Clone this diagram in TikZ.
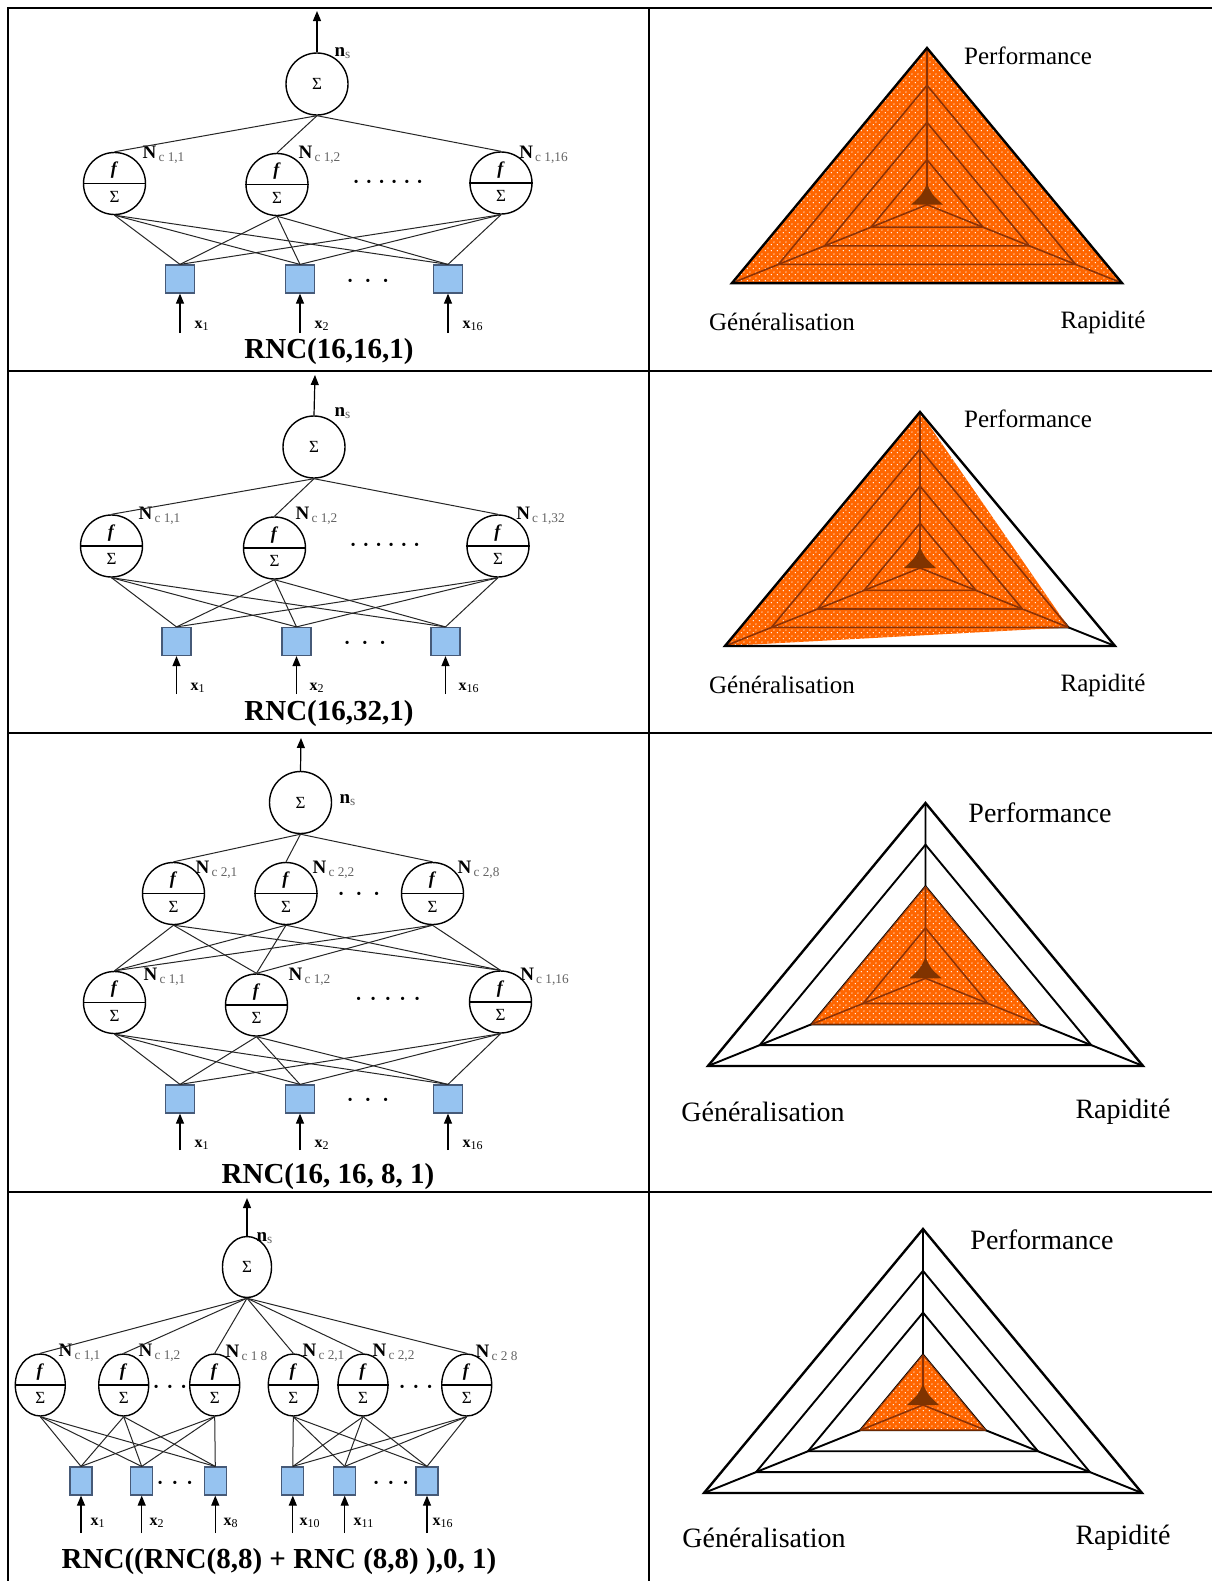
\documentclass[tikz,border=0pt]{standalone}
\usepackage{fontspec}
\setmainfont{Liberation Serif}
\usetikzlibrary{arrows.meta,shapes.geometric,patterns}

\definecolor{orng}{RGB}{255,102,0}
\definecolor{brn}{RGB}{140,50,5}
\definecolor{dkbrn}{RGB}{128,51,0}
\definecolor{sqfill}{RGB}{150,195,240}
\definecolor{sqdraw}{RGB}{70,90,120}
\definecolor{subgray}{RGB}{100,100,100}

\pgfdeclarepatternformonly{wdots}{\pgfpoint{0pt}{0pt}}{\pgfpoint{2.8pt}{2.8pt}}{\pgfpoint{2.8pt}{2.8pt}}{%
  \pgfpathcircle{\pgfpoint{0.7pt}{0.7pt}}{0.35pt}%
  \pgfpathcircle{\pgfpoint{2.1pt}{2.1pt}}{0.35pt}%
  \pgfusepath{fill}}

\tikzset{
 tbl/.style={line width=1pt},
 conn/.style={line width=0.5pt, draw=black!85},
 arr/.style={line width=0.6pt, -{Triangle[length=5pt,width=4pt]}},
 neu/.style={circle, draw, line width=0.7pt, minimum size=31pt, inner sep=0pt},
 neue/.style={ellipse, draw, line width=0.7pt, minimum width=25pt, minimum height=31pt, inner sep=0pt},
 sig/.style={neu, font=\fontsize{8.5}{8.5}\selectfont},
 sige/.style={ellipse, draw, line width=0.7pt, minimum width=24.5pt, minimum height=30.5pt, inner sep=0pt, font=\fontsize{8.5}{8.5}\selectfont},
 divl/.style={line width=0.7pt},
 ftx/.style={inner sep=0pt, font=\fontsize{9}{9}\selectfont},
 stx/.style={inner sep=0pt, font=\fontsize{8.5}{8.5}\selectfont},
 nl/.style={inner sep=0pt, font=\fontsize{9.5}{10}\selectfont},
 xl/.style={inner sep=0pt, font=\fontsize{8}{8}\selectfont},
 sq/.style={rectangle, draw=sqdraw, fill=sqfill, line width=0.6pt, minimum width=14.5pt, minimum height=14pt, inner sep=0pt},
 sqn/.style={sq, minimum width=11pt},
 dt/.style={inner sep=0pt, font=\fontsize{10}{10}\selectfont\bfseries},
 captxt/.style={inner sep=0pt, font=\fontsize{14.5}{15}\selectfont\bfseries},
 rl/.style={inner sep=0pt, font=\fontsize{12.5}{13}\selectfont},
 rlb/.style={inner sep=0pt, font=\fontsize{14}{15}\selectfont},
 gridk/.style={line width=0.95pt, draw=black},
 gridb/.style={line width=0.8pt, draw=brn},
}

\newcommand\hn[4]{%
  \node[#1] (#2) at (#3,#4) {};
  \draw[divl] (#2.west) -- (#2.east);
  \node[ftx] (#2f) at ([yshift=6.5pt]#2.center) {\textbf{\textit{f}}};
  \node[stx] (#2s) at ([yshift=-6.5pt]#2.center) {Σ};
}
\newcommand\NL[1]{\textbf{N}\textsubscript{\color{subgray}\,#1}}
\newcommand\XL[1]{\textbf{x}\textsubscript{#1}}
\newcommand\NS{\textbf{n}\textsubscript{\color{subgray}s}}
\newcommand\dsix[1]{·\hspace{#1}·\hspace{#1}·\hspace{#1}·\hspace{#1}·\hspace{#1}·}
\newcommand\dfive[1]{·\hspace{#1}·\hspace{#1}·\hspace{#1}·\hspace{#1}·}
\newcommand\dthree[1]{·\hspace{#1}·\hspace{#1}·}

% #1 cx  #2 cy  #3 W  #4 Ry  #5 ftop  #6 fleft  #7 fright
\newcommand\radar[7]{%
  \foreach \f in {0.762,0.525,0.287}{%
    \draw[gridk] (#1,#2-\f*#4) -- (#1-\f*#3,#2+0.5*\f*#4) -- (#1+\f*#3,#2+0.5*\f*#4) -- cycle;}
  \draw[gridk] (#1,#2-#4) -- (#1,#2) -- (#1-#3,#2+0.5*#4) (#1,#2) -- (#1+#3,#2+0.5*#4);
  \fill[orng] (#1,#2-#5*#4) -- (#1-#6*#3,#2+0.5*#6*#4) -- (#1+#7*#3,#2+0.5*#7*#4) -- cycle;
  \fill[pattern=wdots, pattern color=white] (#1,#2-#5*#4) -- (#1-#6*#3,#2+0.5*#6*#4) -- (#1+#7*#3,#2+0.5*#7*#4) -- cycle;
  \begin{scope}
    \clip (#1,#2-#5*#4) -- (#1-#6*#3,#2+0.5*#6*#4) -- (#1+#7*#3,#2+0.5*#7*#4) -- cycle;
    \foreach \f in {0.762,0.525,0.287}{%
      \draw[gridb] (#1,#2-\f*#4) -- (#1-\f*#3,#2+0.5*\f*#4) -- (#1+\f*#3,#2+0.5*\f*#4) -- cycle;}
    \draw[gridb] (#1,#2-#4) -- (#1,#2) -- (#1-#3,#2+0.5*#4) (#1,#2) -- (#1+#3,#2+0.5*#4);
  \end{scope}
  \fill[dkbrn] (#1,#2-21) .. controls (#1-5,#2-10) .. (#1-16,#2)
     -- (#1+16,#2) .. controls (#1+5,#2-10) .. (#1,#2-21) -- cycle;
  \draw[gridk, line width=1.2pt] (#1,#2-#4) -- (#1-#3,#2+0.5*#4) -- (#1+#3,#2+0.5*#4) -- cycle;
}

\begin{document}
\begin{tikzpicture}[x=0.5pt,y=-0.5pt]
\useasboundingbox (0,0) rectangle (1212,1581);
\fill[white] (0,0) rectangle (1212,1581);

% ---------------- table ----------------
\draw[tbl] (7.5,1581) -- (7.5,8) -- (1212,8);
\draw[tbl] (649,8) -- (649,1581);
\draw[tbl] (7.5,371) -- (1212,371);
\draw[tbl] (7.5,733) -- (1212,733);
\draw[tbl] (7.5,1192) -- (1212,1192);

% ================= ROW 1 =================
\node[sig] (r1o) at (317,84) {Σ};
\coordinate (r1t) at (317,11);
\draw[arr] (r1o.north) -- (r1t);
\node[nl] (r1ns) at (343,53) {\NS};
\hn{neu}{r1a}{114.5}{183.5}
\hn{neu}{r1b}{277}{184.5}
\hn{neu}{r1c}{501}{183}
\node[nl] (r1l1) at (164,155) {\NL{c 1,1}};
\node[nl] (r1l2) at (320,155) {\NL{c 1,2}};
\node[nl] (r1l3) at (544,155) {\NL{c 1,16}};
\node[dt] (r1d1) at (388,184) {\dsix{3pt}};
\node[sq] (r1s1) at (180,279) {};
\node[sq] (r1s2) at (300,279) {};
\node[sq] (r1s3) at (448,279) {};
\node[dt] (r1d2) at (368,283) {\dthree{5.5pt}};
\foreach \h in {r1a,r1b,r1c} \draw[conn] (r1o.south) -- (\h.north);
\foreach \h in {r1a,r1b,r1c} \foreach \s in {r1s1,r1s2,r1s3} \draw[conn] (\h.south) -- (\s.north);
\coordinate (r1i1) at (180,333); \coordinate (r1i2) at (300,333); \coordinate (r1i3) at (448,333);
\draw[arr] (r1i1) -- (r1s1.south);
\draw[arr] (r1i2) -- (r1s2.south);
\draw[arr] (r1i3) -- (r1s3.south);
\node[xl] (r1x1) at (202,326) {\XL{1}};
\node[xl] (r1x2) at (322,326) {\XL{2}};
\node[xl] (r1x3) at (473,326) {\XL{16}};
\node[captxt] (r1cap) at (329,352) {RNC(16,16,1)};

\radar{927}{204.7}{195}{156.7}{1}{1}{1}
\node[rl] (r1p) at (1028,56) {Performance};
\node[rl] (r1g) at (782,322) {Généralisation};
\node[rl] (r1r) at (1103,322) {Rapidité};

% ================= ROW 2 =================
\node[sig] (r2o) at (314,447) {Σ};
\coordinate (r2t) at (315,375);
\draw[arr] (r2o.north) -- (r2t);
\node[nl] (r2ns) at (343,413) {\NS};
\hn{neu}{r2a}{111.5}{546}
\hn{neu}{r2b}{274.5}{548}
\hn{neu}{r2c}{498}{546}
\node[nl] (r2l1) at (160,516) {\NL{c 1,1}};
\node[nl] (r2l2) at (317,516) {\NL{c 1,2}};
\node[nl] (r2l3) at (541,516) {\NL{c 1,32}};
\node[dt] (r2d1) at (385,547) {\dsix{3pt}};
\node[sq] (r2s1) at (176.5,641.5) {};
\node[sq] (r2s2) at (296.5,641.5) {};
\node[sq] (r2s3) at (445.5,641.5) {};
\node[dt] (r2d2) at (365,645) {\dthree{5.5pt}};
\foreach \h in {r2a,r2b,r2c} \draw[conn] (r2o.south) -- (\h.north);
\foreach \h in {r2a,r2b,r2c} \foreach \s in {r2s1,r2s2,r2s3} \draw[conn] (\h.south) -- (\s.north);
\coordinate (r2i1) at (176.5,694); \coordinate (r2i2) at (296.5,694); \coordinate (r2i3) at (445.5,694);
\draw[arr] (r2i1) -- (r2s1.south);
\draw[arr] (r2i2) -- (r2s2.south);
\draw[arr] (r2i3) -- (r2s3.south);
\node[xl] (r2x1) at (198,688) {\XL{1}};
\node[xl] (r2x2) at (317,688) {\XL{2}};
\node[xl] (r2x3) at (469,688) {\XL{16}};
\node[captxt] (r2cap) at (329,714) {RNC(16,32,1)};

\radar{920}{568}{195}{156}{1}{1}{0.762}
\node[rl] (r2p) at (1028,419) {Performance};
\node[rl] (r2g) at (782,685) {Généralisation};
\node[rl] (r2r) at (1103,685) {Rapidité};

% ================= ROW 3 =================
\node[sig] (r3o) at (300.5,802.5) {Σ};
\coordinate (r3t) at (301,738);
\draw[arr] (r3o.north) -- (r3t);
\node[nl] (r3ns) at (348,800) {\NS};
\hn{neu}{r3u1}{173.5}{893.5}
\hn{neu}{r3u2}{286}{893.5}
\hn{neu}{r3u3}{432.5}{893.5}
\node[nl] (r3m1) at (217,870) {\NL{c 2,1}};
\node[nl] (r3m2) at (334,870) {\NL{c 2,2}};
\node[nl] (r3m3) at (479,870) {\NL{c 2,8}};
\node[dt] (r3d0) at (359,896) {\dthree{5.5pt}};
\hn{neu}{r3a}{114.5}{1002.5}
\hn{neu}{r3b}{256.5}{1005}
\hn{neu}{r3c}{500.5}{1002}
\node[nl] (r3l1) at (165,977) {\NL{c 1,1}};
\node[nl] (r3l2) at (310,977) {\NL{c 1,2}};
\node[nl] (r3l3) at (545,977) {\NL{c 1,16}};
\node[dt] (r3d1) at (388,1001) {\dfive{4pt}};
\node[sq] (r3s1) at (180,1099) {};
\node[sq] (r3s2) at (300,1099) {};
\node[sq] (r3s3) at (448,1099) {};
\node[dt] (r3d2) at (368,1102) {\dthree{5.5pt}};
\foreach \h in {r3u1,r3u2,r3u3} \draw[conn] (r3o.south) -- (\h.north);
\foreach \h in {r3u1,r3u2,r3u3} \foreach \s in {r3a,r3b,r3c} \draw[conn] (\h.south) -- (\s.north);
\foreach \h in {r3a,r3b,r3c} \foreach \s in {r3s1,r3s2,r3s3} \draw[conn] (\h.south) -- (\s.north);
\coordinate (r3i1) at (180,1150); \coordinate (r3i2) at (300,1150); \coordinate (r3i3) at (448,1150);
\draw[arr] (r3i1) -- (r3s1.south);
\draw[arr] (r3i2) -- (r3s2.south);
\draw[arr] (r3i3) -- (r3s3.south);
\node[xl] (r3x1) at (202,1145) {\XL{1}};
\node[xl] (r3x2) at (322,1145) {\XL{2}};
\node[xl] (r3x3) at (473,1145) {\XL{16}};
\node[captxt] (r3cap) at (328,1177) {RNC(16, 16, 8, 1)};

\radar{925.5}{978.3}{217.5}{175.3}{0.525}{0.525}{0.525}
\node[rlb] (r3p) at (1040,813) {Performance};
\node[rlb] (r3g) at (763,1112) {Généralisation};
\node[rlb] (r3r) at (1123,1112) {Rapidité};

% ================= ROW 4 =================
\node[sige] (r4o) at (247,1267) {Σ};
\coordinate (r4t) at (247,1198);
\draw[arr] (r4o.north) -- (r4t);
\node[nl] (r4ns) at (265,1238) {\NS};
\hn{neue}{r4a}{40.3}{1385}
\hn{neue}{r4b}{123.7}{1385}
\hn{neue}{r4c}{214.7}{1385}
\hn{neue}{r4d}{293.3}{1385}
\hn{neue}{r4e}{363}{1385}
\hn{neue}{r4f}{466.7}{1385}
\node[nl] (r4l1) at (80,1353) {\NL{c 1,1}};
\node[nl] (r4l2) at (160,1353) {\NL{c 1,2}};
\node[nl] (r4l3) at (247,1353) {\NL{c 1 8}};
\node[nl] (r4l4) at (324,1353) {\NL{c 2,1}};
\node[nl] (r4l5) at (394,1353) {\NL{c 2,2}};
\node[nl] (r4l6) at (497,1353) {\NL{c 2 8}};
\node[dt] (r4d1) at (170,1389) {\dthree{3.5pt}};
\node[dt] (r4d2) at (416,1389) {\dthree{3.5pt}};
\node[sqn] (r4s1) at (81,1481) {};
\node[sqn] (r4s2) at (141.7,1481) {};
\node[sqn] (r4s3) at (215.3,1481) {};
\node[sqn] (r4s4) at (292.8,1481) {};
\node[sqn] (r4s5) at (344.7,1481) {};
\node[sqn] (r4s6) at (427,1481) {};
\node[dt] (r4d3) at (175,1485) {\dthree{4pt}};
\node[dt] (r4d4) at (391,1485) {\dthree{4pt}};
\foreach \h in {r4a,r4b,r4c,r4d,r4e,r4f} \draw[conn] (r4o.south) -- (\h.north);
\foreach \h in {r4a,r4b,r4c} \foreach \s in {r4s1,r4s2,r4s3} \draw[conn] (\h.south) -- (\s.north);
\foreach \h in {r4d,r4e,r4f} \foreach \s in {r4s4,r4s5,r4s6} \draw[conn] (\h.south) -- (\s.north);
\foreach \s/\xx in {r4s1/81,r4s2/141.7,r4s3/215.3,r4s4/292.8,r4s5/344.7,r4s6/427}{
  \coordinate (\s i) at (\xx,1533);
  \draw[arr] (\s i) -- (\s.south);
}
\node[xl] (r4x1) at (98,1523) {\XL{1}};
\node[xl] (r4x2) at (157,1523) {\XL{2}};
\node[xl] (r4x3) at (231,1523) {\XL{8}};
\node[xl] (r4x4) at (310,1523) {\XL{10}};
\node[xl] (r4x5) at (364,1523) {\XL{11}};
\node[xl] (r4x6) at (443,1523) {\XL{16}};
\node[captxt] (r4cap) at (279,1562) {RNC((RNC(8,8) + RNC (8,8) ),0, 1)};

\radar{923}{1405}{219}{176}{0.287}{0.287}{0.287}
\node[rlb] (r4p) at (1042,1240) {Performance};
\node[rlb] (r4g) at (764,1538) {Généralisation};
\node[rlb] (r4r) at (1123,1538) {Rapidité};
\end{tikzpicture}
\end{document}
